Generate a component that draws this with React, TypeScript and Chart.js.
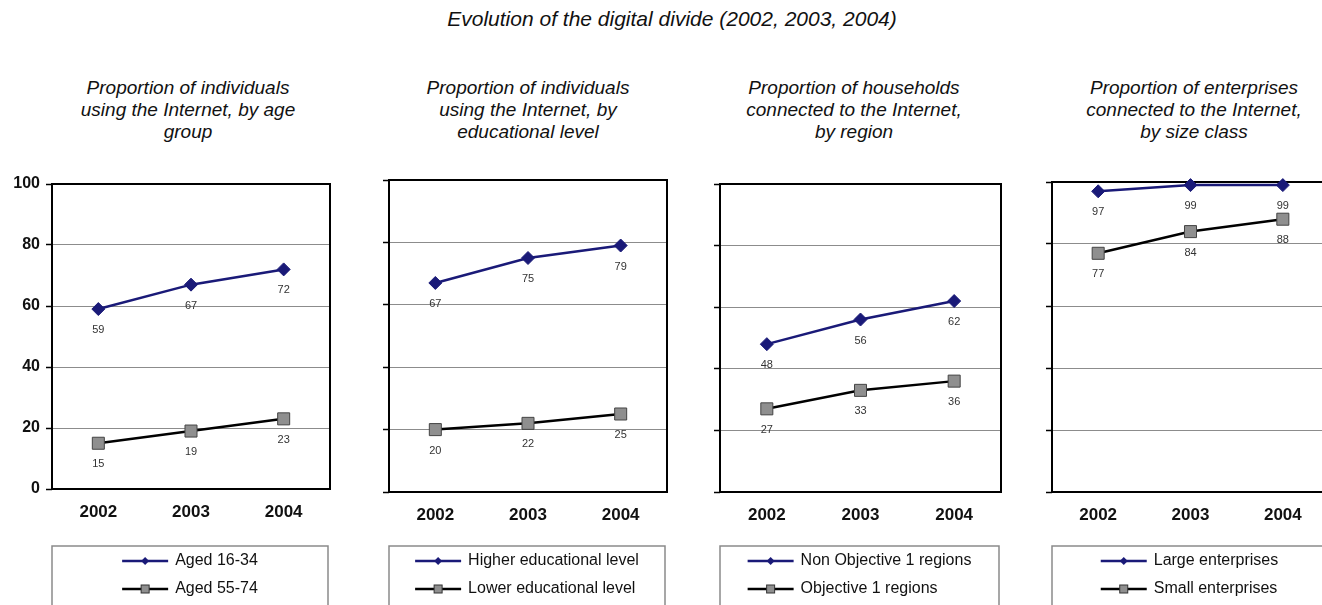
import React, { useEffect, useRef } from "react";
import { Chart, registerables } from "chart.js";

Chart.register(...registerables);

// ---------- data ----------
const YEARS = ["2002", "2003", "2004"];
const MAIN_TITLE = "Evolution of the digital divide (2002, 2003, 2004)";

const AGE_TITLE = ["Proportion of individuals", "using the Internet, by age", "group"];
const AGE_SERIES = ["Aged 16-34", "Aged 55-74"];
const AGE_16_34 = [59, 67, 72];
const AGE_55_74 = [15, 19, 23];

const EDU_TITLE = ["Proportion of individuals", "using the Internet, by", "educational level"];
const EDU_SERIES = ["Higher educational level", "Lower educational level"];
const EDU_HIGHER = [67, 75, 79];
const EDU_LOWER = [20, 22, 25];

const REG_TITLE = ["Proportion of households", "connected to the Internet,", "by region"];
const REG_SERIES = ["Non Objective 1 regions", "Objective 1 regions"];
const REG_NON_OBJ1 = [48, 56, 62];
const REG_OBJ1 = [27, 33, 36];

const ENT_TITLE = ["Proportion of enterprises", "connected to the Internet,", "by size class"];
const ENT_SERIES = ["Large enterprises", "Small enterprises"];
const ENT_LARGE = [97, 99, 99];
const ENT_SMALL = [77, 84, 88];

const Y_MIN = 0;
const Y_MAX = 100;
const Y_STEP = 20;

// ---------- styling / layout ----------
const FONT = '"Liberation Sans", Arial, Helvetica, sans-serif';
const NAVY = "#1a1a78";
const GRAY_FILL = "#8f8f8f";
const CANVAS_TOP = 150;
const CANVAS_H = 455;
const X_AXIS_H = 40;

type PanelDef = {
  title: string[];
  series: string[];
  high: number[];
  low: number[];
  canvasLeft: number;
  canvasWidth: number;
  plotLeft: number;
  plotRight: number;
  plotTop: number;
  plotBottom: number;
  titleCenter: number;
  showY: boolean;
};

const PANELS: PanelDef[] = [
  { title: AGE_TITLE, series: AGE_SERIES, high: AGE_16_34, low: AGE_55_74, canvasLeft: 0, canvasWidth: 340, plotLeft: 52, plotRight: 330, plotTop: 184, plotBottom: 489, titleCenter: 188, showY: true },
  { title: EDU_TITLE, series: EDU_SERIES, high: EDU_HIGHER, low: EDU_LOWER, canvasLeft: 345, canvasWidth: 335, plotLeft: 389, plotRight: 667, plotTop: 180, plotBottom: 492, titleCenter: 528, showY: false },
  { title: REG_TITLE, series: REG_SERIES, high: REG_NON_OBJ1, low: REG_OBJ1, canvasLeft: 690, canvasWidth: 322, plotLeft: 720, plotRight: 1001, plotTop: 184, plotBottom: 492, titleCenter: 854, showY: false },
  { title: ENT_TITLE, series: ENT_SERIES, high: ENT_LARGE, low: ENT_SMALL, canvasLeft: 1020, canvasWidth: 320, plotLeft: 1052, plotRight: 1329, plotTop: 182, plotBottom: 492, titleCenter: 1194, showY: false },
];

const decor = {
  id: "decor",
  beforeDatasetsDraw(chart: any) {
    const { ctx, chartArea: a } = chart;
    ctx.save();
    ctx.strokeStyle = "#000";
    ctx.lineWidth = 2;
    ctx.strokeRect(a.left, a.top, a.right - a.left, a.bottom - a.top);
    ctx.restore();
  },
  afterDraw(chart: any) {
    const { ctx, chartArea: a } = chart;
    ctx.save();
    // value labels
    ctx.font = `11px ${FONT}`;
    ctx.fillStyle = "#333";
    ctx.textAlign = "center";
    ctx.textBaseline = "middle";
    chart.data.datasets.forEach((ds: any, di: number) => {
      const meta = chart.getDatasetMeta(di);
      meta.data.forEach((pt: any, i: number) => {
        ctx.fillText(String(ds.data[i]), pt.x, pt.y + 21);
      });
    });
    // legend box
    const boxL = a.left;
    const boxR = a.right - 2;
    const boxTop = 546 - CANVAS_TOP;
    ctx.strokeStyle = "#8a8a8a";
    ctx.lineWidth = 1.5;
    ctx.beginPath();
    ctx.moveTo(boxL, CANVAS_H + 5);
    ctx.lineTo(boxL, boxTop);
    ctx.lineTo(boxR, boxTop);
    ctx.lineTo(boxR, CANVAS_H + 5);
    ctx.stroke();
    ctx.font = `16px ${FONT}`;
    const names = chart.data.datasets.map((d: any) => d.label as string);
    const maxW = Math.max(...names.map((n: string) => ctx.measureText(n).width));
    const sampleW = 46;
    const gap = 7;
    const blockW = sampleW + gap + maxW;
    const startX = (boxL + boxR) / 2 - blockW / 2;
    const rows = [561 - CANVAS_TOP, 589 - CANVAS_TOP];
    chart.data.datasets.forEach((ds: any, di: number) => {
      const y = rows[di];
      ctx.strokeStyle = ds.borderColor;
      ctx.lineWidth = 2.5;
      ctx.beginPath();
      ctx.moveTo(startX, y);
      ctx.lineTo(startX + sampleW, y);
      ctx.stroke();
      const cx = startX + sampleW / 2;
      if (di === 0) {
        ctx.fillStyle = NAVY;
        ctx.beginPath();
        ctx.moveTo(cx, y - 4);
        ctx.lineTo(cx + 4, y);
        ctx.lineTo(cx, y + 4);
        ctx.lineTo(cx - 4, y);
        ctx.closePath();
        ctx.fill();
      } else {
        ctx.fillStyle = GRAY_FILL;
        ctx.fillRect(cx - 4, y - 4, 8, 8);
        ctx.strokeStyle = "#333";
        ctx.lineWidth = 1;
        ctx.strokeRect(cx - 4, y - 4, 8, 8);
      }
      ctx.fillStyle = "#111";
      ctx.textAlign = "left";
      ctx.textBaseline = "middle";
      ctx.fillText(ds.label, startX + sampleW + gap, y);
    });
    ctx.restore();
  },
};

function Panel({ p }: { p: PanelDef }) {
  const ref = useRef<HTMLCanvasElement>(null);
  useEffect(() => {
    const yAxisW = p.plotLeft - p.canvasLeft;
    const chart = new Chart(ref.current as HTMLCanvasElement, {
      type: "line",
      data: {
        labels: YEARS,
        datasets: [
          {
            label: p.series[0],
            data: p.high,
            borderColor: NAVY,
            backgroundColor: NAVY,
            borderWidth: 2.5,
            pointStyle: "rectRot",
            pointRadius: 6.5,
            pointBackgroundColor: NAVY,
            pointBorderColor: NAVY,
            pointBorderWidth: 1,
            tension: 0,
            clip: false as any,
          },
          {
            label: p.series[1],
            data: p.low,
            borderColor: "#000",
            backgroundColor: GRAY_FILL,
            borderWidth: 2.5,
            pointStyle: "rect",
            pointRadius: 8.5,
            pointBackgroundColor: GRAY_FILL,
            pointBorderColor: "#444",
            pointBorderWidth: 1,
            tension: 0,
            clip: false as any,
          },
        ],
      },
      options: {
        responsive: false,
        animation: false,
        events: [],
        layout: {
          padding: {
            left: 0,
            right: p.canvasLeft + p.canvasWidth - p.plotRight,
            top: p.plotTop - CANVAS_TOP,
            bottom: CANVAS_H - (p.plotBottom - CANVAS_TOP) - X_AXIS_H,
          },
        },
        plugins: {
          legend: { display: false },
          title: { display: false },
          tooltip: { enabled: false },
        },
        scales: {
          x: {
            type: "category",
            offset: true,
            grid: { display: false, drawTicks: false },
            border: { display: false },
            ticks: {
              font: { family: FONT, size: 17, weight: "bold" },
              color: "#111",
              padding: 13,
              maxRotation: 0,
            },
            afterFit: (s: any) => {
              s.height = X_AXIS_H;
            },
          },
          y: {
            min: Y_MIN,
            max: Y_MAX,
            border: { display: false },
            grid: {
              color: "#8c8c8c",
              lineWidth: 1,
              drawTicks: true,
              tickLength: 6,
              tickColor: "#000",
              tickWidth: 1.5,
            },
            ticks: {
              stepSize: Y_STEP,
              display: p.showY,
              font: { family: FONT, size: 16, weight: "bold" },
              color: "#111",
              padding: 6,
            },
            afterFit: (s: any) => {
              s.width = yAxisW;
            },
          },
        },
      },
      plugins: [decor],
    });
    return () => chart.destroy();
  }, [p]);
  return (
    <canvas
      ref={ref}
      width={p.canvasWidth}
      height={CANVAS_H}
      style={{ position: "absolute", left: p.canvasLeft, top: CANVAS_TOP, width: p.canvasWidth, height: CANVAS_H }}
    />
  );
}

export default function App() {
  return (
    <div style={{ position: "fixed", left: 0, top: 0, width: 1322, height: 605, overflow: "hidden", background: "#fff" }}>
      <div
        style={{
          position: "absolute",
          left: 0,
          top: 7,
          width: 1344,
          textAlign: "center",
          fontFamily: FONT,
          fontStyle: "italic",
          fontSize: 21,
          lineHeight: "24px",
          color: "#111",
        }}
      >
        {MAIN_TITLE}
      </div>
      {PANELS.map((p, i) => (
        <div
          key={"t" + i}
          style={{
            position: "absolute",
            left: p.titleCenter - 160,
            top: 77,
            width: 320,
            textAlign: "center",
            fontFamily: FONT,
            fontStyle: "italic",
            fontSize: 19,
            lineHeight: "22px",
            color: "#111",
          }}
        >
          {p.title.map((line, j) => (
            <div key={j}>{line}</div>
          ))}
        </div>
      ))}
      {PANELS.map((p, i) => (
        <Panel key={"c" + i} p={p} />
      ))}
    </div>
  );
}
